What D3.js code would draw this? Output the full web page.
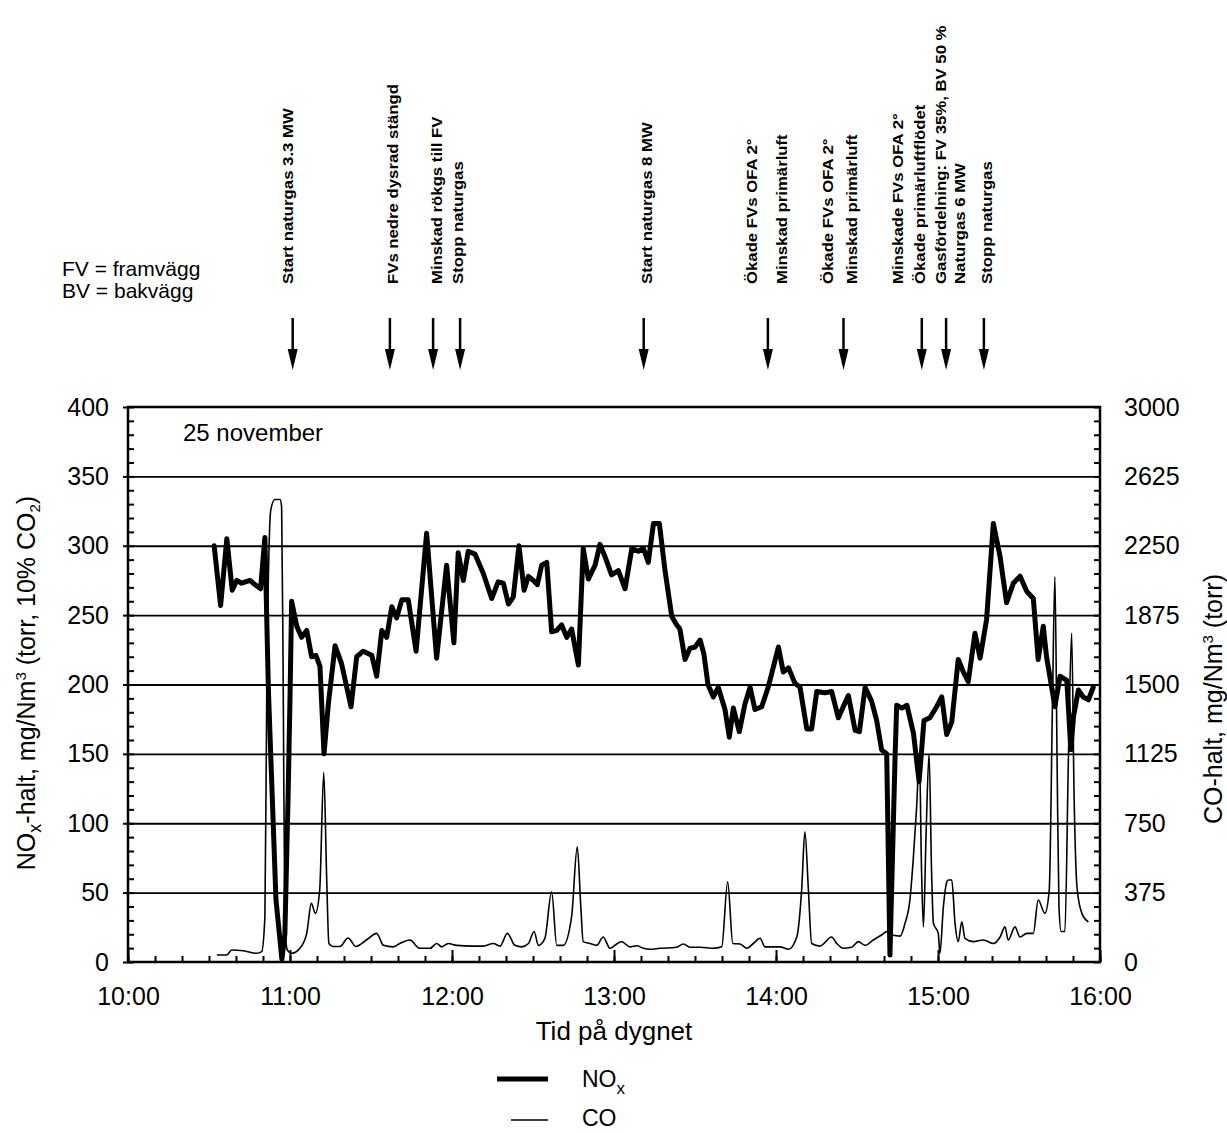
<!DOCTYPE html>
<html>
<head>
<meta charset="utf-8">
<script src="https://cdn.jsdelivr.net/npm/d3@7"></script>
<style>
  body { margin: 0; background: #fff; }
  svg { display: block; }
  text { font-family: "Liberation Sans", Arial, Helvetica, sans-serif; fill: #000; }
</style>
</head>
<body>
<svg id="chart" width="1227" height="1133"></svg>
<script>
// NOx readings: [minutes after 10:00, mg/Nm3 (torr, 10% CO2)]
const noxReadings = [
  [31.9,300],[34.3,257],[36.6,305],[38.6,268],[40.3,275],[42.1,273],[45.2,275],[47.0,272],[49.1,269],[50.7,306],
  [52.0,196],[54.8,45],[57.0,2],[58.1,20],[59.3,120],[60.0,190],[60.6,260],[62.5,242],[64.3,234],[66.2,239],
  [68.0,220],[69.6,221],[71.1,213],[72.6,150],[74.2,186],[76.7,228],[79.1,215],[82.6,184],[84.7,220],[87.1,224],
  [90.3,221],[92.1,206],[94.0,239],[95.8,234],[97.7,256],[99.5,248],[101.4,261],[103.8,261],[106.7,224],[110.6,309],
  [114.3,219],[118.0,286],[120.7,230],[122.3,295],[124.2,275],[126.0,296],[128.5,294],[131.6,280],[134.7,262],[137.1,274],
  [139.0,273],[140.9,258],[142.7,263],[144.8,300],[146.7,268],[148.3,278],[150.1,275],[151.6,272],[153.2,286],[155.1,288],
  [156.9,238],[158.8,239],[160.6,243],[162.5,234],[164.3,240],[166.8,214],[168.6,298],[170.5,276],[173.0,286],[174.8,301],
  [176.7,292],[179.1,279],[181.6,282],[184.1,269],[186.6,298],[189.0,296],[190.9,298],[192.7,288],[194.6,316],[196.8,316],
  [198.9,282],[201.4,249],[203.2,243],[204.4,240],[206.3,218],[208.1,226],[210.0,227],[211.9,232],[213.3,222],[214.8,200],
  [216.8,191],[218.6,198],[221.1,182],[222.7,162],[224.2,183],[226.4,166],[228.5,186],[230.4,198],[232.2,182],[234.7,184],
  [237.1,198],[240.9,227],[242.7,209],[244.6,212],[247.0,201],[248.9,198],[251.4,168],[253.2,168],[255.1,195],[258.1,194],
  [260.6,195],[263.1,176],[264.9,184],[266.8,192],[269.3,167],[270.9,166],[273.0,198],[275.4,188],[277.3,174],[279.1,153],
  [281.0,150],[282.2,5],[284.1,148],[284.7,185],[286.6,183],[288.5,185],[290.9,165],[293.0,130],[294.8,174],[297.0,176],
  [299.5,184],[301.4,191],[303.2,164],[305.1,173],[307.5,218],[309.4,209],[311.2,202],[313.7,237],[315.6,219],[318.0,247],
  [320.5,316],[323.0,292],[325.4,259],[327.9,273],[330.4,278],[332.9,267],[335.3,262],[337.1,218],[339.0,242],[340.2,220],
  [342.7,191],[343.3,184],[345.2,206],[347.7,203],[349.2,153],[350.2,177],[352.0,196],[353.8,191],[355.7,189],[357.5,198]
];

// CO readings: [minutes after 10:00, mg/Nm3 (torr)]
const coReadings = [
  [32.9,38],[36.6,38],[38.4,65],[42.7,61],[47.7,47],[49.5,56],[50.7,245],[51.4,1470],[52.9,2445],[54.4,2500],
  [56.3,2500],[56.9,2460],[57.5,1470],[58.1,210],[59.0,65],[60.6,47],[63.7,75],[66.2,155],[67.9,317],[69.4,263],
  [71.0,390],[72.5,1025],[73.6,445],[74.4,100],[75.9,84],[78.5,84],[81.5,130],[84.4,84],[88.4,120],[92.1,155],
  [94.6,90],[98.3,82],[100.7,100],[104.4,119],[108.1,74],[111.9,74],[114.3,100],[116.2,82],[118.6,100],[121.7,90],
  [127.9,86],[131.6,86],[135.3,100],[137.8,86],[140.5,155],[143.3,90],[145.8,82],[148.3,100],[150.4,165],[152.0,90],
  [154.4,128],[156.9,380],[158.8,90],[161.2,90],[164.3,245],[166.4,623],[167.7,300],[168.6,110],[171.1,100],[173.6,90],
  [176.0,135],[178.5,74],[181.0,97],[182.8,110],[185.9,82],[188.4,88],[190.9,74],[193.3,69],[197.0,74],[203.2,80],
  [205.7,97],[208.1,80],[211.9,80],[216.8,74],[219.9,82],[222.1,434],[224.0,100],[226.7,97],[229.2,74],[231.6,100],
  [234.1,128],[235.9,82],[241.5,82],[244.6,69],[247.7,135],[249.5,390],[250.7,704],[252.0,390],[253.2,100],[256.3,86],
  [260.6,135],[262.5,100],[264.9,74],[268.0,80],[270.5,110],[273.0,90],[276.0,119],[279.1,146],[281.0,164],[282.9,146],
  [286.0,140],[287.8,210],[289.6,335],[290.9,570],[292.1,840],[293.1,1125],[293.9,500],[294.6,190],[295.6,700],[296.7,1125],
  [297.6,500],[298.3,210],[300.1,155],[300.7,46],[302.0,300],[303.2,430],[303.8,443],[305.1,443],[306.3,210],[307.5,110],
  [308.8,217],[310.0,128],[313.1,110],[316.8,119],[320.5,100],[323.0,135],[324.8,190],[326.0,119],[328.5,190],[330.4,135],
  [332.9,155],[335.3,155],[337.1,335],[339.6,263],[341.2,390],[342.4,1400],[343.3,2083],[344.1,1100],[344.8,300],[345.6,165],
  [347.0,165],[348.3,1100],[349.5,1777],[350.4,900],[351.5,400],[353.3,263],[355.7,217]
];

const noxTicks = [0, 50, 100, 150, 200, 250, 300, 350, 400];
const coTicks = [0, 375, 750, 1125, 1500, 1875, 2250, 2625, 3000];
const hourLabels = ["10:00", "11:00", "12:00", "13:00", "14:00", "15:00", "16:00"];

// Operating events: arrow times and the annotation columns above them
const eventArrows = ["11:01", "11:37", "11:53", "12:03", "13:11", "13:57", "14:25", "14:54", "15:03", "15:17"];
const eventLabelTimes = ["10:59", "11:38", "11:54", "12:02", "13:12", "13:51", "14:02", "14:19", "14:28",
                         "14:45", "14:53", "15:01", "15:08", "15:18"];
const eventLabelTexts = [
  "Start naturgas 3.3 MW",
  "FVs nedre dysrad stängd",
  "Minskad rökgs till FV",
  "Stopp naturgas",
  "Start naturgas 8 MW",
  "Ökade FVs OFA 2°",
  "Minskad primärluft",
  "Ökade FVs OFA 2°",
  "Minskad primärluft",
  "Minskade FVs OFA 2°",
  "Ökade primärluftflödet",
  "Gasfördelning: FV 35%, BV 50 %",
  "Naturgas 6 MW",
  "Stopp naturgas"
];
const wallKey = ["FV = framvägg", "BV = bakvägg"];

const clockToMinutes = s => { const [h, m] = s.split(":").map(Number); return (h - 10) * 60 + m; };

const svg = d3.select("#chart");
const plot = { left: 128, right: 1100, top: 407, bottom: 962 };
const plotW = plot.right - plot.left;

const x = d3.scaleLinear().domain([0, 360]).range([plot.left, plot.right]);
const yNox = d3.scaleLinear().domain([0, 400]).range([plot.bottom, plot.top]);
const yCo = d3.scaleLinear().domain([0, 3000]).range([plot.bottom, plot.top]);

const styleAxis = (g, size) => {
  g.select(".domain").remove();
  g.selectAll("line").attr("stroke", "#000").attr("stroke-width", 2);
  g.selectAll("text").attr("font-size", size).attr("fill", "#000")
    .attr("font-family", '"Liberation Sans", Arial, Helvetica, sans-serif');
};

// Horizontal grid lines at every 50 mg/Nm3
svg.append("g").attr("transform", `translate(${plot.left},0)`)
  .call(d3.axisLeft(yNox).tickValues(noxTicks.filter(v => v > 0 && v < 400)).tickSize(-plotW).tickFormat(""))
  .call(g => styleAxis(g, 0))
  .call(g => g.selectAll("line").attr("stroke-width", 1.8));

// Left axis: minor ticks inside, labelled majors outside
svg.append("g").attr("transform", `translate(${plot.left},0)`)
  .call(d3.axisLeft(yNox).tickValues(d3.range(0, 401, 10)).tickSize(-6).tickFormat(""))
  .call(g => styleAxis(g, 0));
svg.append("g").attr("transform", `translate(${plot.left},0)`)
  .call(d3.axisLeft(yNox).tickValues(noxTicks).tickSize(5).tickPadding(14).tickFormat(d3.format("d")))
  .call(g => styleAxis(g, 25));

// Right axis (CO scale)
svg.append("g").attr("transform", `translate(${plot.right},0)`)
  .call(d3.axisRight(yCo).tickValues(d3.range(0, 3001, 75)).tickSize(-6).tickFormat(""))
  .call(g => styleAxis(g, 0));
svg.append("g").attr("transform", `translate(${plot.right},0)`)
  .call(d3.axisRight(yCo).tickValues(coTicks).tickSize(0).tickPadding(24).tickFormat(d3.format("d")))
  .call(g => styleAxis(g, 25));

// Time axis: 10-minute ticks, longer hour ticks with labels
svg.append("g").attr("transform", `translate(0,${plot.bottom})`)
  .call(d3.axisBottom(x).tickValues(d3.range(0, 361, 10)).tickSize(-6).tickFormat(""))
  .call(g => styleAxis(g, 0));
svg.append("g").attr("transform", `translate(0,${plot.bottom})`)
  .call(d3.axisBottom(x).tickValues(hourLabels.map(clockToMinutes)).tickSize(-12).tickPadding(25)
    .tickFormat((d, i) => hourLabels[i]))
  .call(g => styleAxis(g, 25));

// Plot frame
svg.append("rect")
  .attr("x", plot.left).attr("y", plot.top)
  .attr("width", plotW).attr("height", plot.bottom - plot.top)
  .attr("fill", "none").attr("stroke", "#000").attr("stroke-width", 2.5);

// Series
const coLine = d3.line().x(d => x(d[0])).y(d => yCo(d[1])).curve(d3.curveMonotoneX);
const noxLine = d3.line().x(d => x(d[0])).y(d => yNox(d[1]));

svg.append("path").datum(coReadings).attr("d", coLine)
  .attr("fill", "none").attr("stroke", "#000").attr("stroke-width", 1.6).attr("stroke-linejoin", "round");
svg.append("path").datum(noxReadings).attr("d", noxLine)
  .attr("fill", "none").attr("stroke", "#000").attr("stroke-width", 5)
  .attr("stroke-linejoin", "round").attr("stroke-linecap", "round");

// Date label inside the plot
svg.append("text").attr("x", 183).attr("y", 441).attr("font-size", 24).text("25 november");

// Event annotations (vertical text) and arrows
svg.append("g").selectAll("text").data(eventLabelTexts).join("text")
  .attr("transform", (d, i) => `translate(${x(clockToMinutes(eventLabelTimes[i]))},284) rotate(-90) scale(1.08,1)`)
  .attr("dominant-baseline", "central")
  .attr("font-size", 15.5).attr("font-weight", "bold")
  .text(d => d);

const arrows = svg.append("g").selectAll("g").data(eventArrows).join("g")
  .attr("transform", d => `translate(${x(clockToMinutes(d))},0)`);
arrows.append("line").attr("x1", 0).attr("x2", 0).attr("y1", 318).attr("y2", 352)
  .attr("stroke", "#000").attr("stroke-width", 2.5);
arrows.append("path").attr("d", "M-5,349 L5,349 L0,370 Z").attr("fill", "#000");

// Wall abbreviations, two closely spaced lines
svg.append("g").selectAll("text").data(wallKey).join("text")
  .attr("x", 62).attr("y", (d, i) => 276 + i * 22)
  .attr("font-size", 21)
  .text(d => d);

// Axis titles
const leftTitle = svg.append("text")
  .attr("transform", "translate(35,683) rotate(-90)")
  .attr("text-anchor", "middle").attr("font-size", 25);
leftTitle.append("tspan").text("NO");
leftTitle.append("tspan").attr("font-size", 18).attr("dy", 6).text("x");
leftTitle.append("tspan").attr("dy", -6).text("-halt, mg/Nm");
leftTitle.append("tspan").attr("font-size", 15).attr("dy", -9).text("3");
leftTitle.append("tspan").attr("dy", 9).text(" (torr, 10% CO");
leftTitle.append("tspan").attr("font-size", 15).attr("dy", 5).text("2");
leftTitle.append("tspan").attr("dy", -5).text(")");

const rightTitle = svg.append("text")
  .attr("transform", "translate(1222,699) rotate(-90)")
  .attr("text-anchor", "middle").attr("font-size", 25);
rightTitle.append("tspan").text("CO-halt, mg/Nm");
rightTitle.append("tspan").attr("font-size", 15).attr("dy", -9).text("3");
rightTitle.append("tspan").attr("dy", 9).text(" (torr)");

svg.append("text").attr("x", 614).attr("y", 1040).attr("text-anchor", "middle")
  .attr("font-size", 26).text("Tid på dygnet");

// Legend
svg.append("line").attr("x1", 497).attr("x2", 548).attr("y1", 1079).attr("y2", 1079)
  .attr("stroke", "#000").attr("stroke-width", 5);
const noxKey = svg.append("text").attr("x", 582).attr("y", 1087).attr("font-size", 23);
noxKey.append("tspan").text("NO");
noxKey.append("tspan").attr("font-size", 17).attr("dy", 7).text("x");
svg.append("line").attr("x1", 511).attr("x2", 548).attr("y1", 1120).attr("y2", 1120)
  .attr("stroke", "#000").attr("stroke-width", 1.6);
svg.append("text").attr("x", 582).attr("y", 1126).attr("font-size", 23).text("CO");
</script>
</body>
</html>
